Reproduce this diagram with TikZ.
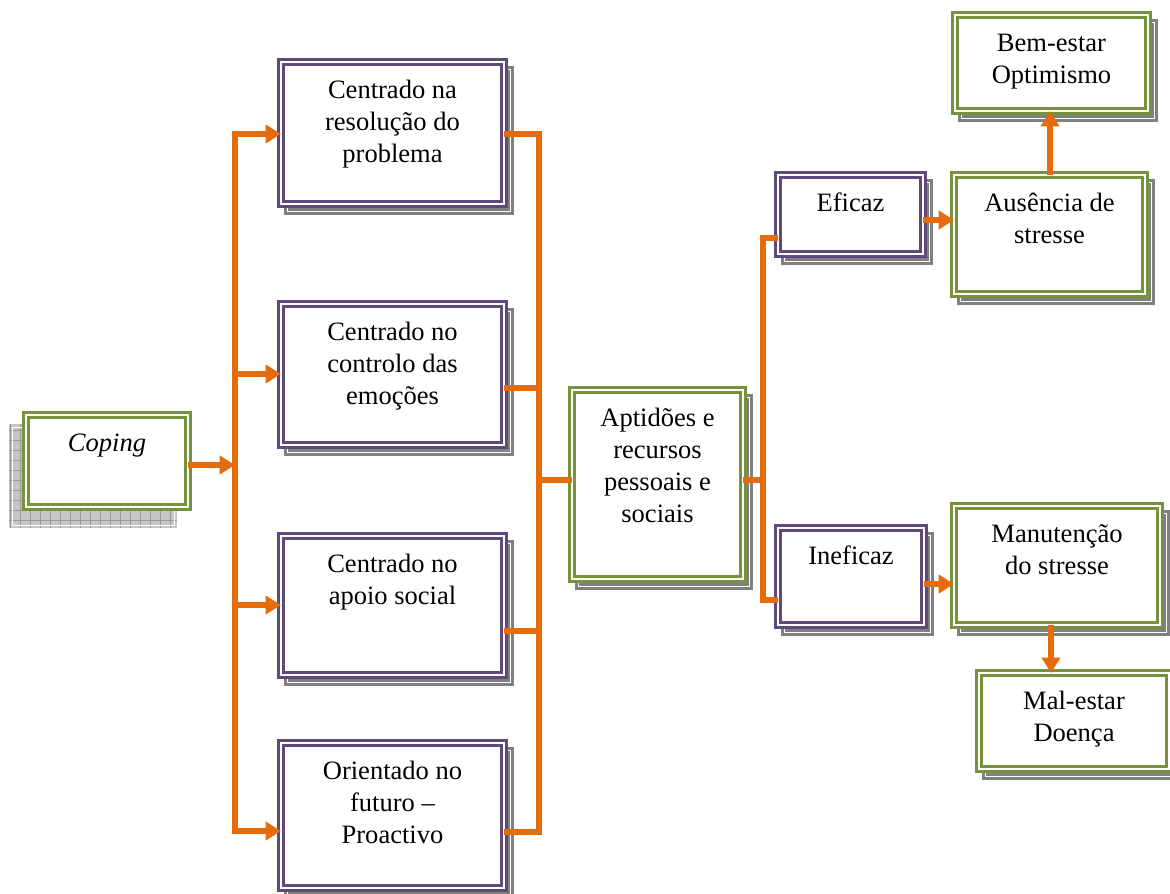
\documentclass[tikz,border=0pt]{standalone}
\usepackage{fontspec}
\setmainfont{Liberation Serif}
\usetikzlibrary{arrows.meta,shadows}
\definecolor{conorange}{HTML}{E46C0A}
\definecolor{boxpurple}{HTML}{5F497A}
\definecolor{boxgreen}{HTML}{76923C}
\newlength\pxu
\setlength\pxu{0.75pt}
% top-aligned, centred text block of a given size (in pixel units)
\newcommand\boxtext[3]{\parbox[c][#2\pxu][t]{#1\pxu}{\centering\rule{0pt}{27pt}#3\par}}

\begin{document}
\begin{tikzpicture}[x=0.75pt,y=-0.75pt,
  font=\fontsize{19.9}{24}\selectfont,
  base/.style={anchor=north west, inner sep=0pt, outer sep=0pt, fill=white,
    line width=2.1pt, double=white, double distance=1.5pt},
  shadowed/.style={general shadow={shadow xshift=4.8pt, shadow yshift=-5.4pt,
    draw=gray, double=white, line width=2pt, double distance=1pt},
    preaction={draw=white, line width=6.6pt}},
  pbox/.style={base, shadowed, draw=boxpurple},
  gbox/.style={base, shadowed, draw=boxgreen},
  cbox/.style={base, draw=boxgreen},
  conn/.style={draw=conorange, line width=4.3pt},
  tip/.style={Triangle[length=11.5pt,width=13.5pt]},
  arr/.style={conn, -{Triangle[length=11.5pt,width=13.5pt]}},
]
\useasboundingbox (0,0) rectangle (1170,893);

% hatched shadow behind the Coping box
\fill[gray!45] (9,424) rectangle (177,528);
\begin{scope}
  \clip (9,424) rectangle (177,528);
  \draw[gray!80, line width=0.45pt] (9,424) grid[step=7.5pt] (177,528);
\end{scope}
\draw[white, line width=0.7pt] (12,427) rectangle (174,525);

% boxes
\node[cbox] (cop) at (26,415) {\boxtext{162}{92}{\itshape Coping}};

\node[pbox] (c1) at (281,62)  {\boxtext{223}{142}{Centrado na\\resolução do\\problema}};
\node[pbox] (c2) at (281,304) {\boxtext{223}{141}{Centrado no\\controlo das\\emoções}};
\node[pbox] (c3) at (281,536) {\boxtext{223}{139}{Centrado no\\apoio social}};
\node[pbox] (c4) at (281,743) {\boxtext{223}{145}{Orientado no\\futuro –\\Proactivo}};

\node[gbox] (apt) at (572,390) {\boxtext{171}{189}{Aptidões e\\recursos\\pessoais e\\sociais}};

\node[pbox] (efi)  at (778,175) {\boxtext{145}{79}{Eficaz}};
\node[pbox] (inef) at (778,528) {\boxtext{146}{97}{Ineficaz}};

\node[gbox] (aus) at (954,175) {\boxtext{191}{119}{Ausência de\\stresse}};
\node[gbox] (bem) at (955,15)  {\boxtext{193}{96}{Bem-estar\\Optimismo}};
\node[gbox] (man) at (954,506) {\boxtext{206}{119}{Manutenção\\do stresse}};
\node[gbox] (mal) at (979,673) {\boxtext{190}{96}{Mal-estar\\Doença}};

% junction points of the connectors
\coordinate (lb0) at (235,134);
\coordinate (lb1) at (235,374);
\coordinate (lb2) at (235,605);
\coordinate (lb3) at (235,831);
\coordinate (lbc) at (235,465);
\coordinate (rb0) at (539,134);
\coordinate (rb1) at (539,388);
\coordinate (rb2) at (539,631);
\coordinate (rb3) at (539,832);
\coordinate (rbm) at (539,480);
\coordinate (tb0) at (763,238);
\coordinate (tb1) at (763,600);
\coordinate (tbm) at (763,480);
\coordinate (ea) at (0,220);
\coordinate (im) at (0,584);
\coordinate (ub) at (1050,0);
\coordinate (md) at (1051,0);

% Coping to the strategies
\draw[arr] (cop.east |- lbc) -- (lbc);
\draw[conn, {Triangle[length=11.5pt,width=13.5pt]}-{Triangle[length=11.5pt,width=13.5pt]}]
  (c1.west |- lb0) -- (lb0) -- (lb3) -- (c4.west |- lb3);
\draw[arr] (lb1) -- (c2.west |- lb1);
\draw[arr] (lb2) -- (c3.west |- lb2);

% strategies to resources
\draw[conn] (c1.east |- rb0) -- (rb0) -- (rb3) -- (c4.east |- rb3);
\draw[conn] (c2.east |- rb1) -- (rb1);
\draw[conn] (c3.east |- rb2) -- (rb2);
\draw[conn] (rbm) -- (apt.west |- rbm);

% resources to outcomes
\draw[conn] (apt.east |- tbm) -- (tbm);
\draw[conn] (efi.west |- tb0) -- (tb0) -- (tb1) -- (inef.west |- tb1);

\draw[arr] (efi.east |- ea) -- (aus.west |- ea);
\draw[arr] (inef.east |- im) -- (man.west |- im);
\draw[arr] (aus.north -| ub) -- (bem.south -| ub);
\draw[arr] (man.south -| md) -- (mal.north -| md);
\end{tikzpicture}
\end{document}
